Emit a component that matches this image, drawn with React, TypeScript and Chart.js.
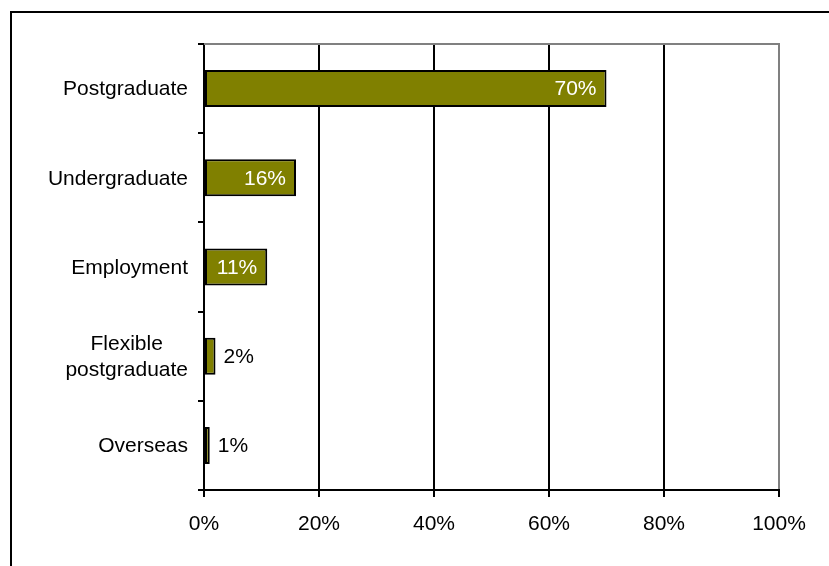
import React, { useEffect, useRef } from "react";
import { Chart, registerables } from "chart.js";

Chart.register(...registerables);

const categories = ["Postgraduate", "Undergraduate", "Employment", "Flexible postgraduate", "Overseas"];
const categoryLines = [["Postgraduate"], ["Undergraduate"], ["Employment"], ["Flexible", "postgraduate"], ["Overseas"]];
const shares = [70, 16, 11, 2, 1];
const xTicks = [0, 20, 40, 60, 80, 100];

const FONT = "'Liberation Sans', Arial, sans-serif";
const FS = 21;

const framePlugin = {
  id: "frameTop",
  afterDatasetsDraw(chart: any) {
    const { ctx, chartArea } = chart;
    ctx.save();
    ctx.strokeStyle = "#808080";
    ctx.lineWidth = 2;
    ctx.beginPath();
    ctx.moveTo(chartArea.left, chartArea.top);
    ctx.lineTo(chartArea.right + 1, chartArea.top);
    ctx.stroke();
    ctx.restore();
  },
};

const labelPlugin = {
  id: "labels",
  afterDraw(chart: any) {
    const { ctx, chartArea } = chart;
    const y = chart.scales.y;
    const meta = chart.getDatasetMeta(0);
    ctx.save();
    ctx.font = `${FS}px ${FONT}`;
    ctx.textBaseline = "middle";
    const rightEdge = chartArea.left - 16;
    const lh = 26;
    categoryLines.forEach((lines, i) => {
      const cy = y.getPixelForValue(i) + 1;
      const widest = Math.max(...lines.map((l) => ctx.measureText(l).width));
      const cx = rightEdge - widest / 2;
      ctx.fillStyle = "#000";
      ctx.textAlign = "center";
      lines.forEach((l, j) => {
        ctx.fillText(l, cx, cy + (j - (lines.length - 1) / 2) * lh);
      });
    });
    meta.data.forEach((bar: any, i: number) => {
      const txt = shares[i] + "%";
      const w = ctx.measureText(txt).width;
      const barW = bar.x - chartArea.left;
      if (w + 20 < barW) {
        ctx.fillStyle = "#fff";
        ctx.textAlign = "right";
        ctx.fillText(txt, bar.x - 10, bar.y + 1);
      } else {
        ctx.fillStyle = "#000";
        ctx.textAlign = "left";
        ctx.fillText(txt, bar.x + 8, bar.y + 1);
      }
    });
    ctx.restore();
  },
};

export default function App() {
  const ref = useRef<HTMLCanvasElement>(null);
  useEffect(() => {
    if (!ref.current) return;
    const chart = new Chart(ref.current, {
      type: "bar",
      data: {
        labels: categories,
        datasets: [
          {
            data: shares,
            backgroundColor: "#808000",
            borderColor: "#000",
            borderWidth: 2,
            borderSkipped: false,
            barPercentage: 0.415,
            categoryPercentage: 1,
          },
        ],
      },
      options: {
        indexAxis: "y",
        animation: false,
        responsive: false,
        devicePixelRatio: 1,
        layout: { padding: { top: 44, right: 50, left: 0, bottom: 0 } },
        plugins: { legend: { display: false }, tooltip: { enabled: false }, title: { display: false } },
        scales: {
          x: {
            min: 0,
            max: 100,
            afterFit: (s: any) => {
              s.height = 76;
            },
            afterBuildTicks: (s: any) => {
              s.ticks = xTicks.map((v) => ({ value: v }));
            },
            ticks: {
              font: { family: FONT, size: FS },
              color: "#000",
              padding: 15,
              maxRotation: 0,
              autoSkip: false,
              callback: (v: any) => v + "%",
            },
            grid: {
              color: (c: any) => (c.tick && c.tick.value === 100 ? "#808080" : "#000"),
              lineWidth: 2,
              tickLength: 7,
              tickColor: "#000",
              tickWidth: 2,
            },
            border: { display: true, color: "#000", width: 2 },
          },
          y: {
            afterFit: (s: any) => {
              s.width = 204;
            },
            ticks: { display: false },
            grid: {
              drawOnChartArea: false,
              offset: true,
              tickLength: 6,
              color: "#000",
              lineWidth: 2,
            },
            border: { display: true, color: "#000", width: 2 },
          },
        },
      },
      plugins: [framePlugin, labelPlugin],
    });
    return () => chart.destroy();
  }, []);
  return (
    <div style={{ position: "absolute", left: 0, top: 0, width: 829, height: 566, overflow: "hidden", background: "#fff" }}>
      <div
        style={{
          position: "absolute",
          left: 10,
          top: 11,
          width: 1000,
          height: 1000,
          borderTop: "2px solid #000",
          borderLeft: "2px solid #000",
        }}
      />
      <canvas ref={ref} width={829} height={566} style={{ position: "absolute", left: 0, top: 0 }} />
    </div>
  );
}
